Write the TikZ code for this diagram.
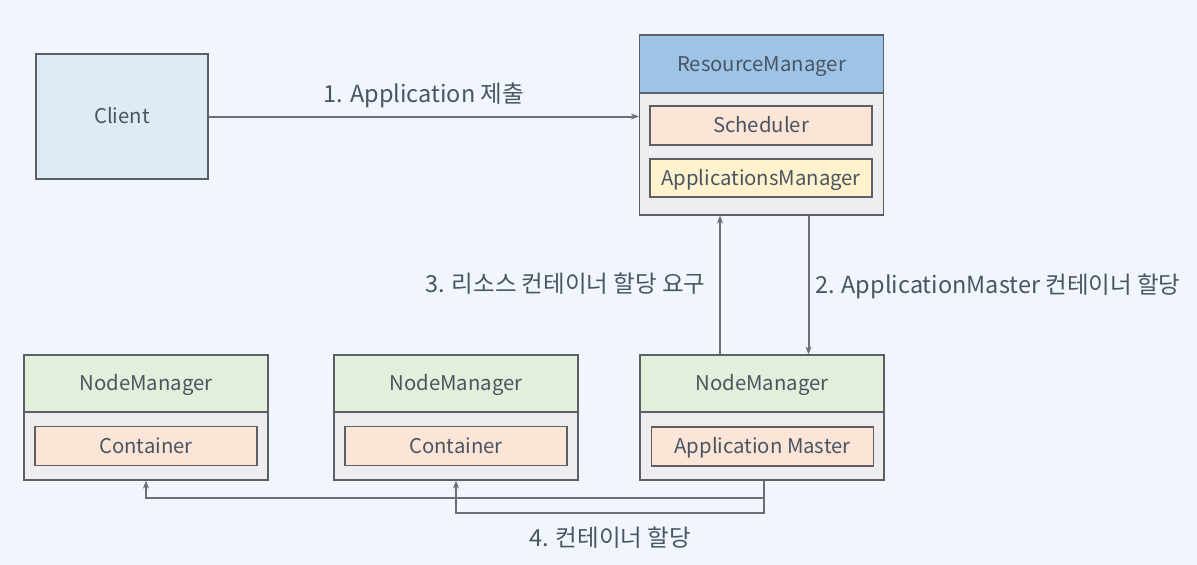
\documentclass[tikz,border=0pt]{standalone}
\usepackage{fontspec}
\setmainfont{Noto Sans CJK KR}
\usetikzlibrary{arrows.meta}

\definecolor{bgcol}{HTML}{F0F5FE}
\definecolor{linecol}{HTML}{5C6066}
\definecolor{txtcol}{HTML}{4A5562}
\definecolor{clientcol}{HTML}{DEEAF6}
\definecolor{rmcol}{HTML}{9DC3E6}
\definecolor{bodycol}{HTML}{EEECEF}
\definecolor{nmcol}{HTML}{E2EFDA}
\definecolor{orangecol}{HTML}{FCE4D6}
\definecolor{yellowcol}{HTML}{FFF2CC}

\begin{document}
\begin{tikzpicture}[
  x=1pt, y=-1pt,
  every node/.style={draw=linecol, line width=1.2pt, text=txtcol, font=\fontsize{20.3}{24}\selectfont,
    inner sep=0pt, text height=14pt, text depth=0pt},
  body/.style={fill=bodycol, minimum width=244pt, minimum height=125pt},
  head/.style={fill=nmcol, minimum width=244pt, minimum height=57pt},
  inner box/.style={fill=orangecol, minimum width=222pt, minimum height=39pt},
  step label/.style={draw=none, font=\fontsize{23.5}{27}\selectfont, text height=17pt, text depth=0pt},
  arrow/.style={draw=linecol!90, line width=2pt, -{Stealth[length=8pt,width=6pt]}}
]
\fill[bgcol] (0,0) rectangle (1197,565);
\useasboundingbox (0,0) rectangle (1197,565);

% Client
\node[fill=clientcol, minimum width=172pt, minimum height=125pt] (client) at (122,116.5) {Client};

% ResourceManager
\node[body, minimum height=180pt] (rm) at (761.5,125) {};
\node[head, fill=rmcol, minimum height=58pt] (rmhead) at (761.5,64) {ResourceManager};
\node[inner box] (sched) at (761,125.5) {Scheduler};
\node[inner box, fill=yellowcol, minimum height=38pt] (appsmgr) at (761,178) {ApplicationsManager};

% NodeManagers
\node[body] (nm1) at (146,417.5) {};
\node[head] (nm1head) at (146,383.5) {NodeManager};
\node[inner box] (cont1) at (146,446) {Container};

\node[body] (nm2) at (456,417.5) {};
\node[head] (nm2head) at (456,383.5) {NodeManager};
\node[inner box] (cont2) at (456,446) {Container};

\node[body] (nm3) at (762,417.5) {};
\node[head] (nm3head) at (762,383.5) {NodeManager};
\node[inner box] (am) at (762.5,446.5) {Application Master};

% Arrows with labels
\draw[arrow] (client.east) -- (client.east -| rm.west)
  node[midway, step label, above=13pt] {1. Application 제출};

\draw[arrow] ([xshift=47pt]rm.south) -- ([xshift=47pt]rm.south |- nm3.north)
  node[midway, step label, right=6pt] {2. ApplicationMaster 컨테이너 할당};

\draw[arrow] ([xshift=-42pt]nm3.north) -- ([xshift=-42pt]nm3.north |- rm.south)
  node[pos=0.51, step label, left=14pt] {3. 리소스 컨테이너 할당 요구};

% Container allocation
\draw[arrow] ([xshift=2pt]nm3.south) -- ++(0,17) -| (nm1.south);
\draw[arrow] ([xshift=2pt]nm3.south) -- ++(0,32) -| (nm2.south);
\node[step label] (alloc) at (610,538) {4. 컨테이너 할당};

\end{tikzpicture}
\end{document}
